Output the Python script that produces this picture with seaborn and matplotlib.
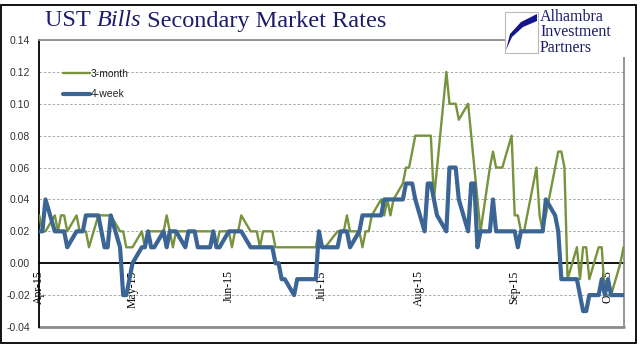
import numpy as np
import pandas as pd
import matplotlib
matplotlib.use("Agg")
import matplotlib.pyplot as plt
import matplotlib.dates as mdates
from matplotlib.patches import Rectangle, Polygon
import seaborn as sns

# ---- data: daily secondary-market rates, business days Apr 1 - Oct 6, 2015 ----
holidays = ["2015-05-25", "2015-07-03", "2015-09-07"]
dates = pd.bdate_range("2015-04-01", "2015-10-06", freq="C", holidays=holidays)

three_month = [
    # Apr
    0.03, 0.02, 0.02, 0.03, 0.02, 0.03, 0.03, 0.02, 0.03, 0.02, 0.02, 0.02, 0.01,
    0.03, 0.03, 0.03, 0.03, 0.03, 0.02, 0.02, 0.01, 0.01,
    # May
    0.01, 0.02, 0.01, 0.02, 0.02, 0.02, 0.02, 0.03, 0.02, 0.01, 0.02, 0.02, 0.02,
    0.02, 0.02, 0.02, 0.02, 0.02, 0.01, 0.02,
    # Jun
    0.02, 0.01, 0.02, 0.02, 0.03, 0.02, 0.02, 0.02, 0.01, 0.02, 0.02, 0.01, 0.01,
    0.01, 0.01, 0.01, 0.01, 0.01, 0.01, 0.01, 0.01, 0.02,
    # Jul
    0.01, 0.01, 0.02, 0.02, 0.02, 0.03, 0.02, 0.02, 0.01, 0.02, 0.02, 0.03, 0.04,
    0.03, 0.04, 0.03, 0.04, 0.05, 0.06, 0.06, 0.07, 0.08,
    # Aug
    0.08, 0.08, 0.08, 0.04, 0.06, 0.12, 0.10, 0.10, 0.10, 0.09, 0.10, 0.08, 0.06,
    0.04, 0.02, 0.06, 0.07, 0.06, 0.06, 0.06, 0.08,
    # Sep
    0.03, 0.03, 0.02, 0.02, 0.06, 0.03, 0.02, 0.03, 0.06, 0.07, 0.07, 0.06, -0.01,
    0.01, -0.01, 0.01, 0.01, -0.01, 0.01, 0.01, -0.02,
    # Oct
    -0.02, -0.02, 0.00, 0.01,
]

four_week = [
    # Apr
    0.02, 0.02, 0.04, 0.02, 0.02, 0.02, 0.02, 0.01, 0.02, 0.02, 0.02, 0.03, 0.03,
    0.03, 0.02, 0.01, 0.01, 0.03, 0.01, -0.02, -0.02, -0.01,
    # May
    0.00, 0.01, 0.01, 0.02, 0.01, 0.01, 0.02, 0.01, 0.02, 0.02, 0.02, 0.01, 0.02,
    0.02, 0.02, 0.01, 0.01, 0.02, 0.01, 0.01,
    # Jun
    0.02, 0.02, 0.02, 0.02, 0.02, 0.01, 0.01, 0.01, 0.01, 0.01, 0.01, 0.00, 0.00,
    -0.01, -0.01, -0.02, -0.01, -0.01, -0.01, -0.01, -0.01, 0.02,
    # Jul
    0.01, 0.01, 0.01, 0.02, 0.02, 0.02, 0.01, 0.02, 0.03, 0.03, 0.03, 0.03, 0.03,
    0.04, 0.04, 0.04, 0.04, 0.04, 0.05, 0.05, 0.05, 0.04,
    # Aug
    0.02, 0.05, 0.05, 0.04, 0.03, 0.02, 0.06, 0.06, 0.06, 0.04, 0.02, 0.05, 0.05,
    0.01, 0.02, 0.02, 0.04, 0.02, 0.02, 0.02, 0.02,
    # Sep
    0.02, 0.01, 0.02, 0.02, 0.02, 0.02, 0.02, 0.04, 0.03, 0.02, -0.01, -0.01, -0.01,
    -0.01, -0.02, -0.03, -0.03, -0.02, -0.02, -0.01, -0.02,
    # Oct
    -0.01, -0.02, -0.02, -0.02,
]

series_names = ["3-month", "4-week"]
y_ticks = [-0.04, -0.02, 0.00, 0.02, 0.04, 0.06, 0.08, 0.10, 0.12, 0.14]
title_parts = ["UST ", "Bills", " Secondary Market Rates"]
logo_lines = ["Alhambra", "Investment", "Partners"]

# ---- style ----
sns.set_style("white")
plt.rcParams["font.family"] = ["Liberation Sans", "DejaVu Sans"]
plt.rcParams["axes.unicode_minus"] = False

GREEN = "#77933C"
BLUE = "#3A6595"
NAVY = "#1C1C6B"
W, H = 644, 361

fig = plt.figure(figsize=(W / 100, H / 100), dpi=100)
fig.patch.set_facecolor("white")

def fx(px):
    return px / W

def fy(py):
    return 1 - py / H

# outer black frame
fig.patches.append(Rectangle((fx(1), fy(343)), fx(636) - fx(1), fy(5) - fy(343),
                             transform=fig.transFigure, fill=False,
                             edgecolor="black", lw=1.3, zorder=0))

ax = fig.add_axes([fx(38.5), fy(327), fx(623.5) - fx(38.5), fy(40) - fy(327)])
ax.set_facecolor("white")

df = pd.DataFrame({"date": dates, series_names[0]: three_month,
                   series_names[1]: four_week})
sns.lineplot(data=df, x="date", y=series_names[0], ax=ax, color=GREEN, lw=1.7,
             label=series_names[0], zorder=3)
sns.lineplot(data=df, x="date", y=series_names[1], ax=ax, color=BLUE, lw=3.0,
             label=series_names[1], zorder=4)

ax.set_xlim(dates[0] - pd.Timedelta(hours=6), dates[-1])
ax.set_ylim(-0.04, 0.14)
ax.set_xlabel("")
ax.set_ylabel("")

# y axis
ax.set_yticks(y_ticks)
ax.set_yticklabels([f"{v:.2f}" for v in y_ticks], fontsize=7.5, color="#333333")
ax.tick_params(axis="y", direction="out", length=4, width=0.8, color="black", pad=2)
ax.yaxis.grid(True, linestyle=(0, (2.5, 2)), lw=0.7, color="#a8a8a8")
ax.xaxis.grid(False)

# x axis crossing at zero
ax.spines["bottom"].set_position(("data", 0))
ax.spines["bottom"].set_color("black")
ax.spines["bottom"].set_linewidth(1.3)
ax.spines["bottom"].set_zorder(2)
ax.spines["left"].set_color("black")
ax.spines["left"].set_linewidth(1.3)
for s in ["top", "right"]:
    ax.spines[s].set_color("#8c8c8c")
    ax.spines[s].set_linewidth(1.3)
ax.axhline(-0.04, color="#8c8c8c", lw=2.0, clip_on=False, zorder=2)

ax.xaxis.set_major_locator(mdates.MonthLocator())
ax.xaxis.set_major_formatter(mdates.DateFormatter("%b-%y"))
ax.tick_params(axis="x", direction="out", length=4, width=0.8, color="black", pad=1)
for lab in ax.get_xticklabels():
    lab.set_rotation(90)
    lab.set_fontsize(8.5)
    lab.set_family(["Liberation Serif", "DejaVu Serif"])
    lab.set_color("black")
    lab.set_ha("center")
    lab.set_va("top")

# legend
leg = ax.legend(loc="upper left", bbox_to_anchor=((63 - 38.5) / 585, (327 - 69) / 287),
                frameon=False, fontsize=7.5, handlelength=2.6, handletextpad=0.1,
                labelspacing=1.0, borderpad=0, borderaxespad=0)
for t in leg.get_texts():
    t.set_color("#222222")

# title (mixed italic)
TFS = 17.5
x0 = 45
tx = fig.text(fx(x0), fy(21), title_parts[0], fontsize=TFS, color=NAVY,
              family=["Liberation Serif", "DejaVu Serif"], va="center", ha="left")
fig.canvas.draw()
r = fig.canvas.get_renderer()
bb = tx.get_window_extent(r)
t2 = fig.text(bb.x1 / W, fy(21), title_parts[1], fontsize=TFS, color=NAVY,
              family=["Liberation Serif", "DejaVu Serif"], style="italic",
              va="center", ha="left")
bb2 = t2.get_window_extent(r)
fig.text(bb2.x1 / W, fy(21), title_parts[2], fontsize=TFS, color=NAVY,
         family=["Liberation Serif", "DejaVu Serif"], va="center", ha="left")

# logo block (covers plot corner)
fig.patches.append(Rectangle((fx(511), fy(57)), fx(632) - fx(511), fy(8) - fy(57),
                             transform=fig.transFigure, facecolor="white",
                             edgecolor="none", zorder=5))
fig.patches.append(Rectangle((fx(505), fy(53)), fx(538) - fx(505), fy(12) - fy(53),
                             transform=fig.transFigure, facecolor="white",
                             edgecolor="#bbbbbb", lw=0.8, zorder=6))
sw = [(537, 14), (521, 22), (510, 34), (506, 50), (512, 37), (523, 27), (537, 21)]
fig.patches.append(Polygon([(fx(a), fy(b)) for a, b in sw], closed=True,
                           transform=fig.transFigure, facecolor="#14148c",
                           edgecolor="none", zorder=7))
for i, s in enumerate(logo_lines):
    fig.text(fx(540), fy(17 + 15.5 * i), s, fontsize=11.5, color=NAVY,
             family=["Liberation Serif", "DejaVu Serif"], va="center", ha="left",
             zorder=8)

fig.savefig("out.png", dpi=100, facecolor="white")
